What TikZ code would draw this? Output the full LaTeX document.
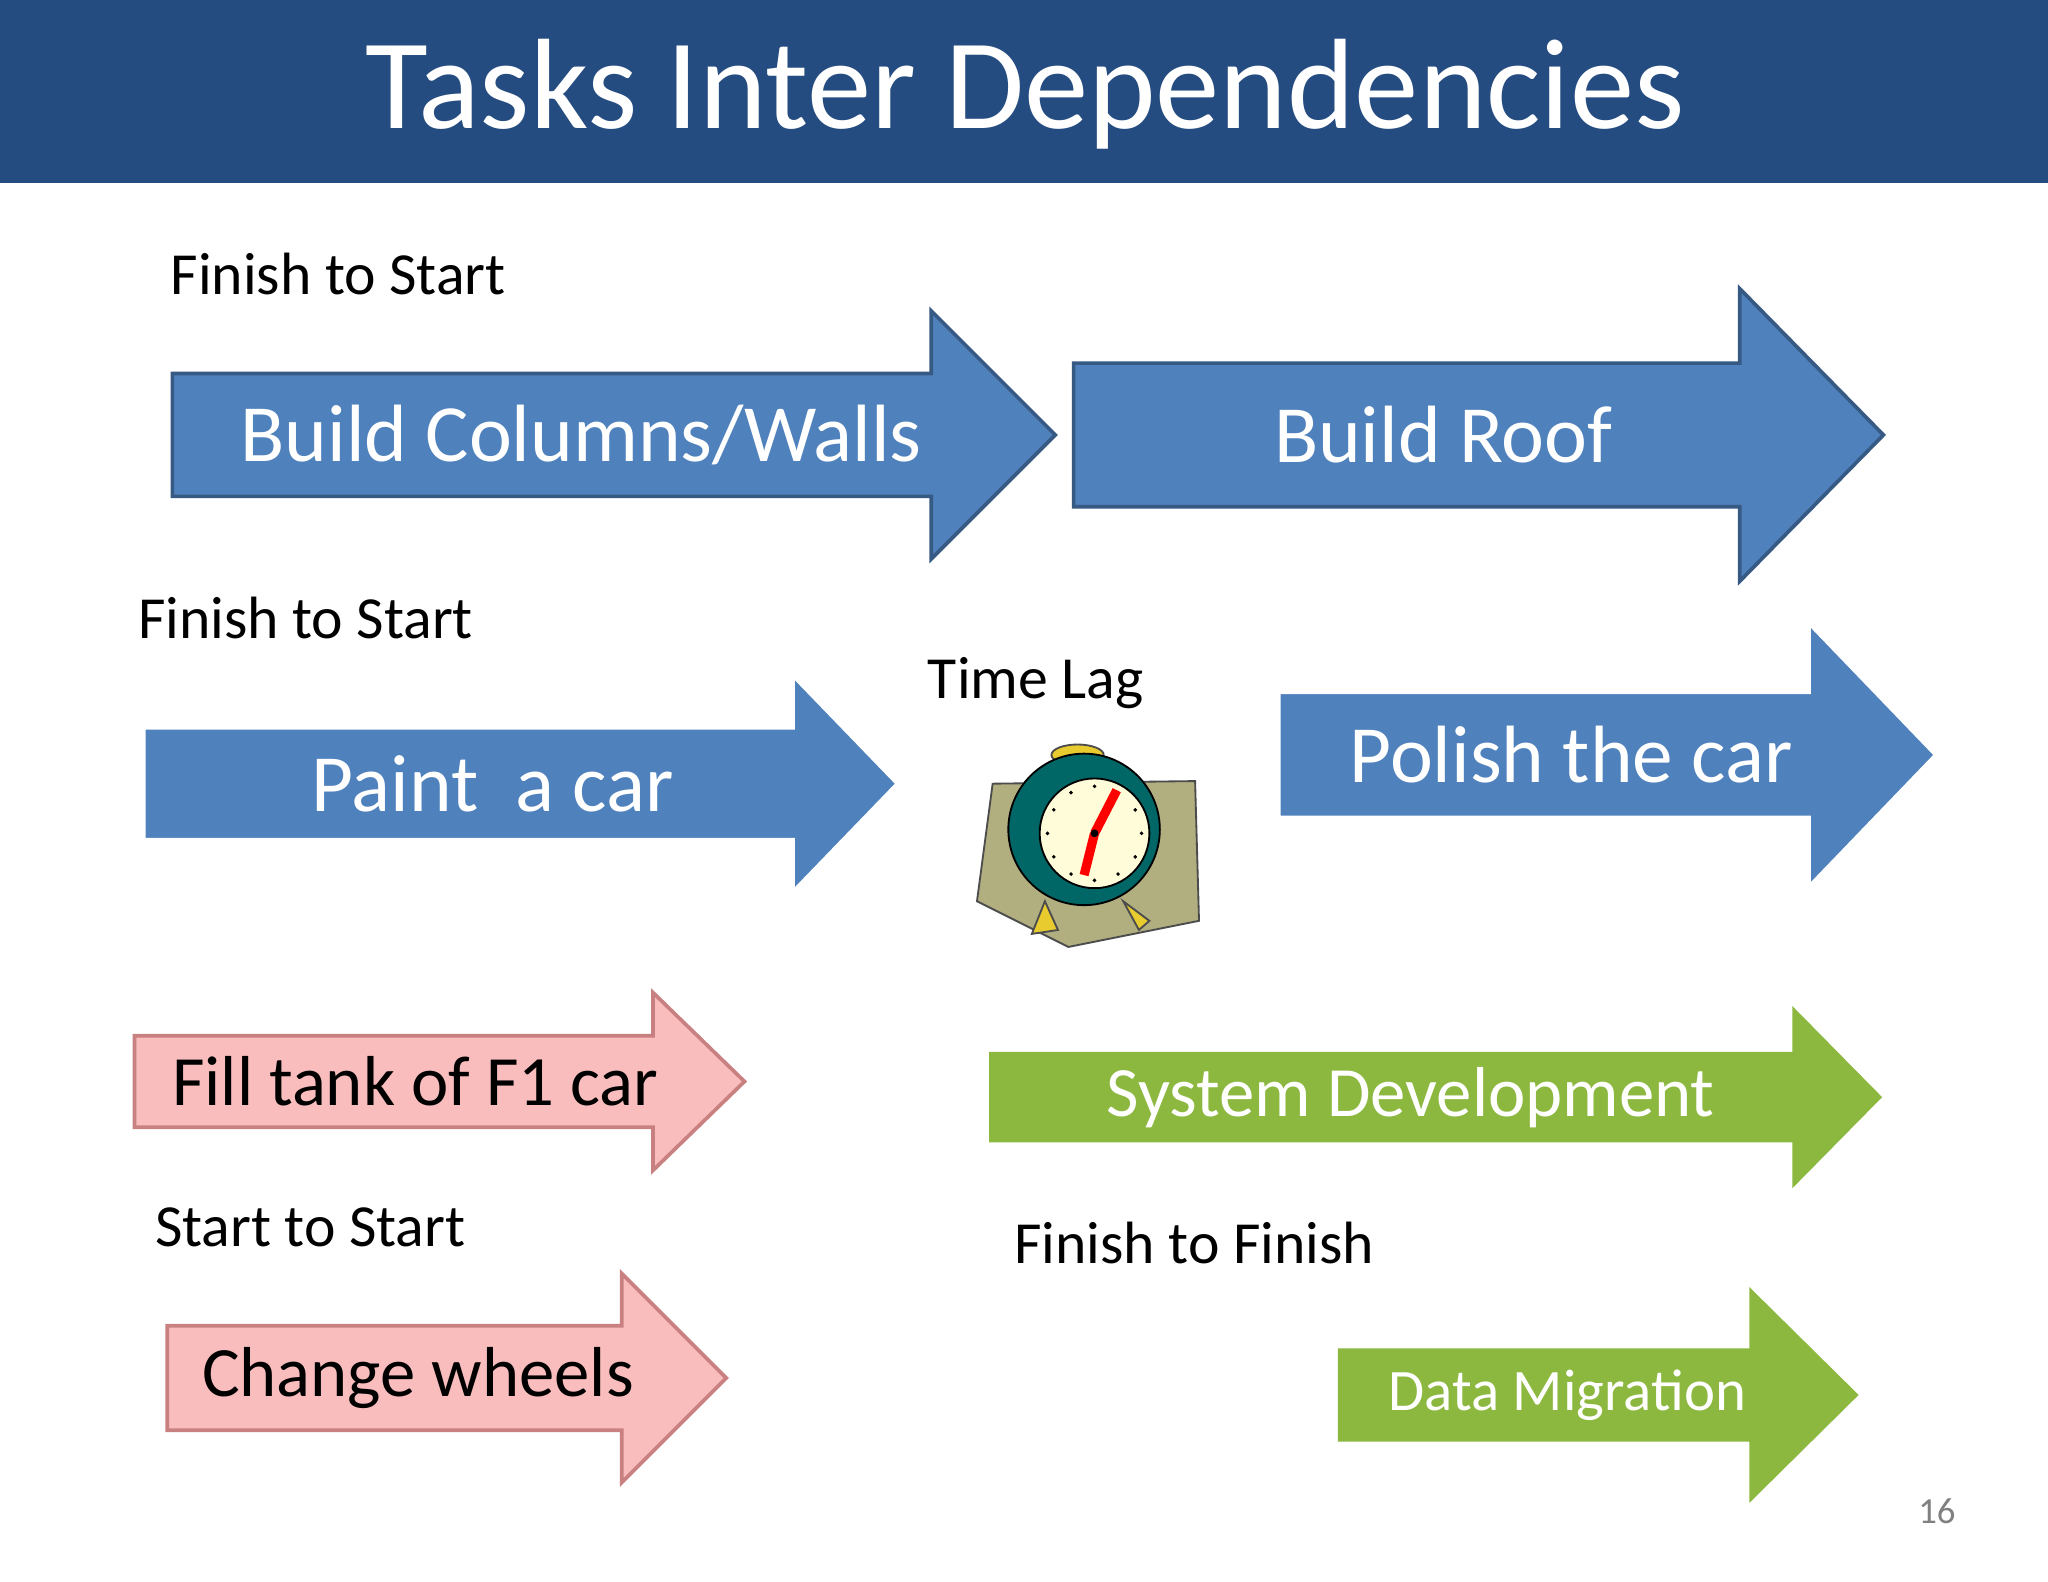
\documentclass[tikz,border=0pt]{standalone}
\usepackage{fontspec}
\usetikzlibrary{calc}
\setmainfont{Carlito}
\definecolor{tbar}{HTML}{254C80}
\definecolor{ablue}{HTML}{4F81BD}
\definecolor{apink}{HTML}{F9BDBD}
\definecolor{apinkd}{HTML}{C98080}
\definecolor{agreen}{HTML}{8CB83F}
\begin{document}
\begin{tikzpicture}[x=0.01cm,y=-0.01cm,
  lbl/.style={font=\fontsize{13}{15}\selectfont,anchor=west,inner sep=0},
  atxt/.style={text=white,font=\fontsize{17.7}{21}\selectfont,inner sep=0},
  ptxt/.style={atxt,text=black,font=\fontsize{15.4}{18}\selectfont}]
\useasboundingbox (0,0) rectangle (1568,1211);
\fill[white] (0,0) rectangle (1568,1211);
\fill[tbar] (0,0) rectangle (1568,140);
\node[text=white,font=\fontsize{28}{32}\selectfont,inner sep=0] (title) at (785,72) {Tasks Inter Dependencies};
% #1 x1 #2 head base #3 tip #4 mid #5 half body #6 half head #7 style
\newcommand\myarrow[7]{\draw[#7] (#1,#4-#5) -- (#2,#4-#5) -- (#2,#4-#6) -- (#3,#4) -- (#2,#4+#6) -- (#2,#4+#5) -- (#1,#4+#5) -- cycle;}
\myarrow{132}{713}{808}{333}{47}{95}{fill=ablue,draw=ablue!70!black,line width=0.8pt}
\myarrow{822}{1332}{1442}{333}{55}{112}{fill=ablue,draw=ablue!70!black,line width=0.8pt}
\myarrow{108}{605}{690}{600}{45}{88}{fill=ablue,draw=white,line width=2pt}
\myarrow{977}{1383}{1485}{578}{50}{106}{fill=ablue,draw=white,line width=2pt}
\myarrow{103}{500}{570}{828}{35}{68}{fill=apink,draw=apinkd,line width=0.8pt}
\myarrow{128}{476}{556}{1055}{40}{80}{fill=apink,draw=apinkd,line width=0.8pt}
\myarrow{758}{1373}{1440}{840}{34}{68}{fill=agreen,draw=agreen}
\myarrow{1025}{1340}{1422}{1068}{35}{81}{fill=agreen,draw=agreen}
\node[atxt] (a1) at (445,333) {Build Columns/Walls};
\node[atxt] (a2) at (1105,333) {Build Roof};
\node[atxt] (a3) at (377,600) {Paint\ \ a car};
\node[atxt] (a4) at (1203,578) {Polish the car};
\node[ptxt] (a5) at (318,828) {Fill tank of F1 car};
\node[ptxt] (a6) at (320,1055) {Change wheels};
\node[atxt,font=\fontsize{15.4}{18}\selectfont] (a7) at (1080,840) {System Development};
\node[atxt,font=\fontsize{12.8}{15}\selectfont] (a8) at (1200,1068) {Data Migration};
\node[lbl] (l1) at (130,210) {Finish to Start};
\node[lbl] (l2) at (105,473) {Finish to Start};
\node[lbl,anchor=center] (l3) at (793,523) {Time Lag};
\node[lbl] (l4) at (118,940) {Start to Start};
\node[lbl] (l5) at (776,952) {Finish to Finish};
\node[text=gray,font=\fontsize{8}{10}\selectfont,inner sep=0] (pg) at (1483,1157) {16};
% clock
\fill[olive!40!gray!70,draw=black!70] (760,600) -- (915,598) -- (918,705) -- (818,725) -- (748,690) -- cycle;
\fill[yellow!60!brown,draw=black!70] (800,690) -- (790,715) -- (810,712) -- cycle;
\fill[yellow!60!brown,draw=black!70] (860,690) -- (872,712) -- (880,705) -- cycle;
\fill[yellow!60!brown,draw=black!70] (825,578) ellipse (20 and 8);
\fill[teal!80!black,draw=black] (830,635) circle (58);
\fill[yellow!15,draw=black] (838,638) circle (42);
\foreach \a in {0,30,...,330} \fill[black] ($(838,638)+(\a:36)$) circle (1.5);
\draw[red,line width=2pt] (838,638) -- (855,605);
\draw[red,line width=2pt] (838,638) -- (830,670);
\fill[black] (838,638) circle (3);
\end{tikzpicture}
\end{document}
